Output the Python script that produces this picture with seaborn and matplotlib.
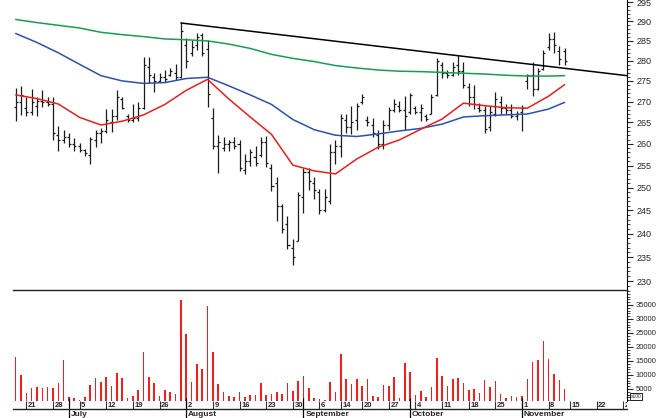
import numpy as np
import pandas as pd
import matplotlib
matplotlib.use("Agg")
import matplotlib.pyplot as plt
import seaborn as sns
from matplotlib.ticker import FixedLocator, NullFormatter, FuncFormatter

# ---- data ----
start = "2010-06-17"
end = "2010-11-30"
holidays = ["2010-09-09", "2010-09-13", "2010-11-11"]

opens = [268.8, 270.0, 268.5, 267.5, 269.0, 270.2, 270.0, 269.5, 262.0, 261.0,
         261.5, 260.0, 259.5, 258.5, 257.5, 261.0, 262.5, 263.0, 265.0, 266.5,
         270.5, 266.5, 265.5, 266.0, 268.5, 278.5, 276.0, 275.0, 276.0, 276.5,
         277.0, 276.0, 284.0, 282.0, 284.0, 286.5, 283.0, 266.0, 259.5, 259.0,
         260.0, 260.5, 260.0, 254.0, 256.0, 257.0, 257.5, 260.5, 254.5, 251.0,
         246.0, 242.0, 237.0, 238.5, 248.0, 253.5, 251.0, 249.0, 245.0, 247.0,
         258.0, 259.5, 265.5, 264.0, 265.5, 270.0, 265.5, 264.5, 262.0, 260.0,
         264.5, 268.0, 269.0, 268.0, 267.5, 268.5, 267.5, 266.5, 266.9, 271.5,
         279.0, 277.0, 276.5, 279.0, 277.5, 273.5, 271.0, 268.5, 268.0, 264.0,
         267.0, 270.0, 268.5, 268.0, 266.5, 267.5, 275.0, 276.5, 273.0, 278.0,
         283.5, 285.5, 282.5, 282.5]
highs = [273.3, 273.7, 271.0, 273.0, 271.0, 272.8, 271.0, 271.2, 264.1, 263.3,
         262.5, 261.3, 260.1, 258.9, 261.6, 263.3, 263.8, 268.1, 268.1, 272.9,
         271.2, 266.9, 269.3, 270.0, 281.0, 281.0, 277.0, 277.0, 277.7, 278.2,
         279.3, 289.6, 285.7, 285.2, 287.0, 287.1, 285.2, 268.5, 262.0, 261.5,
         261.0, 261.5, 261.0, 257.6, 258.7, 259.4, 261.5, 261.8, 255.3, 252.3,
         246.4, 243.7, 238.8, 249.0, 254.5, 254.4, 252.4, 249.7, 249.7, 260.0,
         261.0, 266.9, 266.9, 269.0, 269.7, 271.7, 266.5, 266.1, 263.3, 265.7,
         268.6, 270.5, 270.1, 271.3, 272.0, 269.0, 269.3, 266.9, 271.7, 280.6,
         279.8, 277.7, 279.8, 281.5, 279.8, 274.6, 274.1, 269.7, 269.0, 268.9,
         272.3, 271.3, 269.3, 269.3, 267.8, 269.1, 276.8, 279.8, 278.3, 282.7,
         287.0, 287.4, 283.6, 283.3]
lows = [265.3, 266.7, 266.5, 266.7, 266.5, 268.7, 268.9, 261.0, 258.3, 260.3,
        259.2, 258.3, 258.1, 257.1, 255.3, 259.2, 260.3, 262.6, 262.8, 265.7,
        268.1, 265.0, 265.0, 265.4, 268.1, 274.6, 272.4, 274.8, 274.8, 276.3,
        275.3, 275.8, 278.2, 281.1, 282.7, 281.1, 268.6, 258.7, 253.4, 258.4,
        258.4, 258.7, 253.8, 253.0, 254.9, 254.9, 256.9, 254.6, 249.3, 242.7,
        240.2, 236.7, 233.3, 238.4, 244.5, 249.5, 247.5, 244.2, 244.6, 246.4,
        255.3, 256.9, 262.6, 262.2, 263.3, 269.3, 264.1, 261.5, 258.7, 258.7,
        263.3, 267.6, 267.6, 263.3, 266.9, 266.9, 265.4, 265.4, 266.9, 271.3,
        275.8, 275.8, 276.2, 276.5, 273.3, 268.9, 268.1, 267.4, 262.6, 262.9,
        266.5, 266.9, 266.9, 266.1, 265.7, 263.0, 273.1, 271.3, 272.7, 277.7,
        282.7, 282.0, 279.0, 279.0]
closes = [270.0, 271.5, 267.5, 270.0, 270.2, 270.0, 269.5, 262.5, 261.0, 261.5,
          260.0, 259.5, 258.5, 257.8, 261.2, 262.5, 263.0, 265.5, 266.5, 271.0,
          268.5, 265.5, 266.0, 268.5, 279.0, 276.5, 275.0, 276.0, 275.5, 277.5,
          276.0, 287.5, 280.0, 283.5, 286.0, 282.0, 271.7, 259.5, 260.5, 260.0,
          260.5, 259.5, 254.5, 256.0, 258.0, 255.5, 260.5, 255.5, 250.5, 246.0,
          241.0, 237.5, 235.0, 248.5, 253.5, 251.5, 249.5, 245.0, 248.0, 258.0,
          259.5, 266.0, 264.0, 265.0, 269.0, 271.0, 265.0, 262.5, 260.0, 264.5,
          268.0, 269.5, 268.0, 266.5, 271.5, 267.5, 268.5, 265.8, 271.0, 280.0,
          277.0, 276.5, 278.5, 277.5, 274.0, 271.0, 269.5, 268.0, 263.5, 267.5,
          270.5, 268.5, 268.0, 266.5, 267.0, 268.5, 276.5, 273.0, 277.5, 282.0,
          285.5, 284.0, 280.5, 280.0]
volume = [16500, 10000, 3700, 5250, 5600, 5350, 5800, 5350, 7000, 15250,
          2000, 1650, 1070, 2250, 6400, 8800, 7600, 9200, 6100, 10700,
          8900, 1650, 2500, 4600, 18300, 9200, 7000, 2600, 4600, 4000,
          3100, 36900, 24500, 7600, 13900, 12100, 34700, 18300, 6700, 3800,
          2500, 2000, 3800, 2000, 2850, 2850, 7000, 2850, 3100, 3800,
          3100, 7100, 4300, 8000, 9500, 5350, 1800, 1400, 1200, 7600,
          4000, 17400, 8450, 6700, 8450, 6200, 8450, 2500, 2250, 6500,
          6200, 9200, 1900, 14300, 11200, 2850, 4300, 2250, 5600, 15950,
          9750, 6200, 8550, 8900, 7000, 4600, 4900, 3450, 8200, 5700,
          8000, 3100, 1900, 2500, 2000, 2500, 8550, 14650, 15350, 22100,
          15700, 10250, 8300, 5000]

# moving averages, read every 4th bar
ma_idx = [0, 4, 8, 12, 16, 20, 24, 28, 32, 36, 40, 44, 48, 52, 56, 60, 64, 68,
          72, 76, 80, 84, 88, 92, 96, 100, 103]
ma_short = [271.6, 270.7, 269.4, 266.2, 264.4, 265.3, 266.8, 269.3, 272.7, 275.4,
            270.6, 266.3, 262.2, 255.1, 253.8, 253.1, 256.5, 259.2, 260.9, 263.4,
            265.8, 269.6, 269.0, 268.5, 268.4, 271.3, 274.1]
ma_mid = [286.9, 284.6, 282.0, 279.1, 276.3, 275.0, 274.4, 274.6, 275.6, 275.9,
          273.8, 271.6, 269.3, 265.7, 263.3, 262.0, 261.7, 262.3, 263.0, 263.6,
          264.6, 266.3, 266.6, 266.8, 267.0, 268.2, 269.8]
ma_long = [290.5, 289.7, 289.0, 288.3, 287.2, 286.6, 286.1, 285.5, 285.3, 285.0,
           284.2, 283.1, 281.6, 280.6, 279.8, 278.8, 278.2, 277.7, 277.4, 277.3,
           277.1, 276.9, 276.7, 276.4, 276.2, 276.2, 276.3]

trend_idx = [31, 114.7]
trend_val = [289.6, 276.3]

# ---- calendar ----
days = pd.bdate_range(start, end).drop(pd.to_datetime(holidays))
pos = np.arange(len(days))
new_week = ~days.to_period("W").duplicated()
new_month = ~days.to_period("M").duplicated()
week_pos = pos[new_week][1:]
week_lbl = days[new_week][1:].day
month_pos = pos[new_month][1:]
month_lbl = days[new_month][1:].strftime("%B")

idx = np.arange(len(closes))

sns.set_theme(style="white")
plt.rcParams["font.family"] = ["Liberation Sans", "DejaVu Sans"]

W, H = 663, 418
fig = plt.figure(figsize=(W / 100, H / 100), dpi=100)
L, R = 13, 627
ax_p = fig.add_axes([L / W, 1 - 290 / H, (R - L) / W, 290 / H])
ax_v = fig.add_axes([L / W, 1 - 401 / H, (R - L) / W, 111 / H])
ax_d = fig.add_axes([L / W, 1 - 409.3 / H, (R - L) / W, 8.3 / H])
XL = (-0.5, 114.7)

# price panel
bar_c = "#1c1c1c"
ax_p.vlines(idx, lows, highs, color=bar_c, lw=0.9)
ax_p.hlines(opens, idx - 0.38, idx, color=bar_c, lw=0.9)
ax_p.hlines(closes, idx, idx + 0.38, color=bar_c, lw=0.9)
sns.lineplot(x=ma_idx, y=ma_long, ax=ax_p, color="#14a050", lw=1.1)
sns.lineplot(x=ma_idx, y=ma_mid, ax=ax_p, color="#2c50b4", lw=1.1)
sns.lineplot(x=ma_idx, y=ma_short, ax=ax_p, color="#f01c1c", lw=1.1)
sns.lineplot(x=trend_idx, y=trend_val, ax=ax_p, color="black", lw=1.1)

ax_p.set_yscale("log")
ax_p.set_ylim(228.2, 295.6)
ax_p.set_xlim(*XL)
ax_p.yaxis.set_major_locator(FixedLocator(range(230, 296, 5)))
ax_p.yaxis.set_minor_locator(FixedLocator(range(229, 296)))
ax_p.yaxis.set_major_formatter(FuncFormatter(lambda v, _: f"{v:.0f}"))
ax_p.yaxis.set_minor_formatter(NullFormatter())
ax_p.yaxis.tick_right()
ax_p.tick_params(axis="y", which="major", length=4, width=0.8, labelsize=6.5, pad=3)
ax_p.tick_params(axis="y", which="minor", length=2, width=0.6)
ax_p.set_xticks([])
ax_p.set_xlabel("")
ax_p.set_ylabel("")

# volume panel
sns.barplot(x=idx, y=volume, ax=ax_v, native_scale=True, width=0.3,
            color="#ff1a1a", saturation=1, errorbar=None, linewidth=0)
ax_v.set_xlim(*XL)
ax_v.set_ylim(714, 40357)
ax_v.yaxis.set_major_locator(FixedLocator(range(5000, 40000, 5000)))
ax_v.yaxis.set_minor_locator(FixedLocator(range(1000, 41000, 1000)))
ax_v.yaxis.tick_right()
ax_v.tick_params(axis="y", which="major", length=4, width=0.8, labelsize=5.5, pad=2)
ax_v.tick_params(axis="y", which="minor", length=2, width=0.6)
ax_v.set_xticks([])
ax_v.set_xlabel("")
ax_v.set_ylabel("")

for ax in (ax_p, ax_v):
    for s in ax.spines.values():
        s.set_visible(False)
    ax.spines["right"].set_visible(True)
    ax.spines["right"].set_linewidth(0.8)
    ax.spines["right"].set_color("black")
    ax.set_facecolor("none")
ax_v.spines["top"].set_visible(True)
ax_v.spines["top"].set_color("#222222")
ax_v.spines["top"].set_linewidth(1.0)

# date band
ax_d.set_xlim(*XL)
ax_d.set_ylim(0, 1)
ax_d.set_xticks([])
ax_d.set_yticks([])
ax_d.set_facecolor("none")
for s in ax_d.spines.values():
    s.set_visible(False)
ax_d.spines["bottom"].set_visible(True)
ax_d.spines["bottom"].set_color("#222222")
ax_d.spines["bottom"].set_linewidth(1.0)
ax_d.vlines(week_pos, 0, 1, color="#333333", lw=0.8)
for p, d in zip(week_pos, week_lbl):
    ax_d.text(p + 0.3, 0.45, str(d), fontsize=5.5, fontweight="bold",
              va="center", ha="left", clip_on=True)
keep = month_pos < XL[1]
ax_d.vlines(month_pos[keep], -1.1, 1.4, color="black", lw=0.9, clip_on=False)
for p, m in zip(month_pos[keep], month_lbl[keep]):
    ax_d.text(p + 0.35, -0.6, m, fontsize=6, fontweight="bold",
              va="center", ha="left", clip_on=False)

fig.text(636 / W, 1 - 396.5 / H, "x100", fontsize=3.5, ha="center", va="center",
         bbox=dict(boxstyle="square,pad=0.15", fc="white", ec="black", lw=0.6))

fig.savefig("out.png", dpi=100, facecolor="white")
